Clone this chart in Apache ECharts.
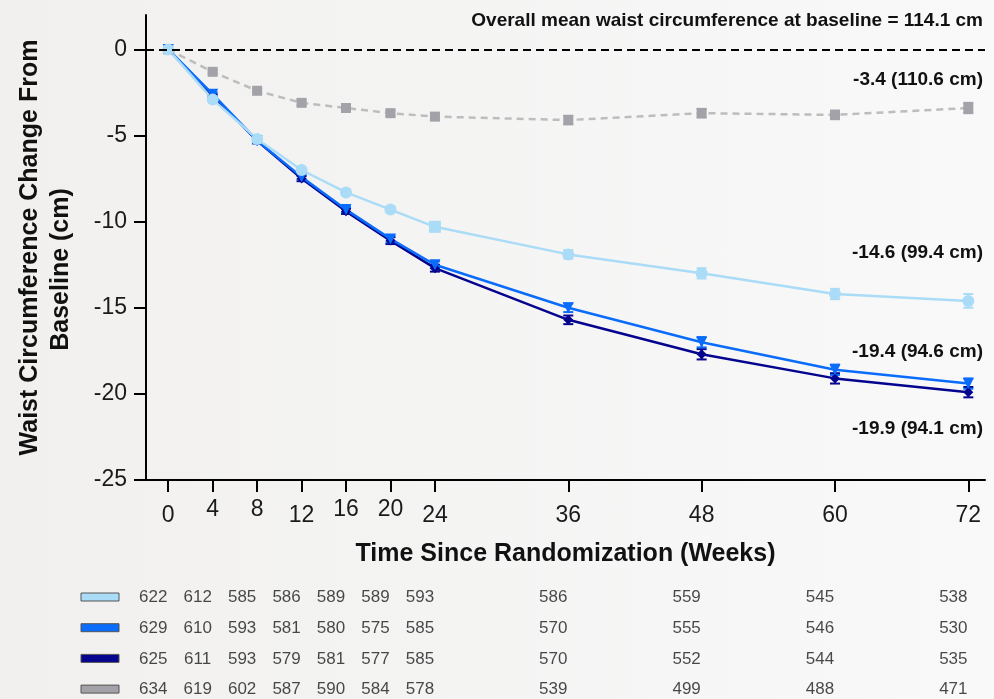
<!DOCTYPE html>
<html>
<head>
<meta charset="utf-8">
<script src="https://cdn.jsdelivr.net/npm/echarts@6/dist/echarts.min.js"></script>
<style>
  html, body { margin: 0; padding: 0; }
  #chart {
    width: 994px; height: 699px;
    background: linear-gradient(to right, #f1f0ef, #f9f9f9);
  }
</style>
</head>
<body>
<div id="chart"></div>
<script>
// weeks since randomization
const weeks = [0, 4, 8, 12, 16, 20, 24, 36, 48, 60, 72];

// mean change from baseline (cm) and error (+/-)
const lowMean = [0, -2.9, -5.2, -7.0, -8.3, -9.3, -10.3, -11.9, -13.0, -14.2, -14.6];
const lowErr = [0, 0.1, 0.15, 0.15, 0.15, 0.15, 0.2, 0.25, 0.3, 0.3, 0.4];
const midMean = [0, -2.6, -5.3, -7.4, -9.3, -11.0, -12.5, -15.0, -17.0, -18.6, -19.4];
const midErr = [0, 0.1, 0.15, 0.15, 0.15, 0.2, 0.2, 0.25, 0.3, 0.3, 0.3];
const highMean = [0, -2.7, -5.3, -7.5, -9.4, -11.1, -12.7, -15.7, -17.7, -19.1, -19.9];
const highErr = [0, 0.1, 0.15, 0.15, 0.15, 0.2, 0.2, 0.25, 0.3, 0.3, 0.3];
const placeboMean = [0, -1.3, -2.4, -3.1, -3.4, -3.7, -3.9, -4.1, -3.7, -3.8, -3.4];
const placeboErr = [0, 0.1, 0.1, 0.15, 0.15, 0.15, 0.2, 0.25, 0.25, 0.25, 0.3];

// patients at each visit
const lowN = [622, 612, 585, 586, 589, 589, 593, 586, 559, 545, 538];
const midN = [629, 610, 593, 581, 580, 575, 585, 570, 555, 546, 530];
const highN = [625, 611, 593, 579, 581, 577, 585, 570, 552, 544, 535];
const placeboN = [634, 619, 602, 587, 590, 584, 578, 539, 499, 488, 471];

const yTicks = [0, -5, -10, -15, -20, -25];
const raisedWeeks = [4, 8, 16, 20];

const C_LOW = "#aadcf7";
const C_MID = "#0a6cfa";
const C_HIGH = "#04048f";
const C_PBO = "#a2a2a8";
const FONT = "Liberation Sans, Arial, sans-serif";

const groups = [
  { name: "Low", mean: lowMean, err: lowErr, n: lowN, color: C_LOW, symbol: "circle", size: 12 },
  { name: "Mid", mean: midMean, err: midErr, n: midN, color: C_MID, symbol: "triangle", size: 11, rotate: 180 },
  { name: "High", mean: highMean, err: highErr, n: highN, color: C_HIGH, symbol: "diamond", size: 10 },
  { name: "Placebo", mean: placeboMean, err: placeboErr, n: placeboN, color: C_PBO, symbol: "rect", size: 10 }
];

let errorBars = g => ({
  type: "custom",
  xAxisIndex: 0, yAxisIndex: 0,
  z: 3,
  data: weeks.map((w, i) => [w, g.mean[i] - g.err[i], g.mean[i] + g.err[i]]),
  encode: { x: 0, y: [1, 2] },
  renderItem: (params, api) => {
    const lo = api.coord([api.value(0), api.value(1)]);
    const hi = api.coord([api.value(0), api.value(2)]);
    const style = { stroke: g.color, lineWidth: 2 };
    return {
      type: "group",
      children: [
        { type: "line", shape: { x1: lo[0], y1: lo[1], x2: hi[0], y2: hi[1] }, style },
        { type: "line", shape: { x1: lo[0] - 5, y1: lo[1], x2: lo[0] + 5, y2: lo[1] }, style },
        { type: "line", shape: { x1: hi[0] - 5, y1: hi[1], x2: hi[0] + 5, y2: hi[1] }, style }
      ]
    };
  }
});

let lineSeries = g => ({
  name: g.name,
  type: "line",
  xAxisIndex: 0, yAxisIndex: 0,
  z: 4,
  data: weeks.map((w, i) => [w, g.mean[i]]),
  symbol: g.name === "Low" ? (v, p) => (p.dataIndex === 6 ? "rect" : "circle") : g.symbol,
  symbolSize: g.size,
  symbolRotate: g.rotate || 0,
  itemStyle: { color: g.color },
  lineStyle: {
    color: g.name === "Placebo" ? "#bdbdbd" : g.color,
    width: 2.5,
    type: g.name === "Placebo" ? [7, 5] : "solid"
  },
  animation: false
});

let tableSeries = (g, row) => ({
  type: "scatter",
  xAxisIndex: 1, yAxisIndex: 1,
  data: weeks.map((w, i) => [w, row, g.n[i]]),
  symbolSize: 1,
  itemStyle: { color: "rgba(0,0,0,0)" },
  label: {
    show: true, position: "inside",
    formatter: p => String(p.value[2]),
    color: "#1a1a1a", fontSize: 17, fontFamily: FONT
  },
  silent: true
});

let annotation = (text, y) => ({
  type: "text", right: 11, top: y,
  style: { text, fontSize: 19, fontWeight: "bold", fill: "#111", fontFamily: FONT }
});

let init = () => {
  const chart = echarts.init(document.querySelector("#chart"), null, { renderer: "canvas" });

  const order = [groups[3], groups[2], groups[1], groups[0]];
  const series = [];
  order.forEach(g => series.push(lineSeries(g), errorBars(g)));
  series[0].markLine = {
    silent: true, symbol: "none", label: { show: false },
    lineStyle: { color: "#000", width: 2, type: [8, 5] },
    data: [{ yAxis: 0 }]
  };
  groups.forEach((g, row) => series.push(tableSeries(g, row)));

  const option = {
    animation: false,
    textStyle: { fontFamily: FONT },
    grid: [
      { left: 146, right: 9, top: 15, bottom: 219, outerBoundsMode: "none", containLabel: false },
      { left: 131, right: 24, top: 582, height: 123, outerBoundsMode: "none", containLabel: false }
    ],
    xAxis: [{
      type: "value", gridIndex: 0, min: -2, max: 73.5,
      splitLine: { show: false },
      axisLine: { onZero: false, lineStyle: { color: "#000", width: 2 } },
      axisTick: { show: true, length: 12, customValues: weeks, lineStyle: { color: "#000", width: 2 } },
      axisLabel: {
        customValues: weeks, margin: 18,
        formatter: v => (raisedWeeks.includes(v) ? "{hi|" + v + "}" : "{lo|" + v + "}"),
        rich: {
          hi: { fontSize: 23, color: "#1a1a1a", fontFamily: FONT },
          lo: { fontSize: 23, color: "#1a1a1a", fontFamily: FONT, padding: [6, 0, 0, 0] }
        }
      },
      name: "Time Since Randomization (Weeks)",
      nameLocation: "middle", nameGap: 62,
      nameTextStyle: { fontSize: 25, fontWeight: "bold", color: "#111", fontFamily: FONT }
    }, {
      type: "value", gridIndex: 1, min: -2, max: 73.5, show: false
    }],
    yAxis: [{
      type: "value", gridIndex: 0, min: -25, max: 2, interval: 5,
      splitLine: { show: false },
      axisLine: { show: true, onZero: false, lineStyle: { color: "#000", width: 2 } },
      axisTick: { show: true, length: 12, customValues: yTicks, lineStyle: { color: "#000", width: 2 } },
      axisLabel: { customValues: yTicks, margin: 19, fontSize: 23, color: "#1a1a1a", fontFamily: FONT },
      name: "{a|Waist Circumference Change From}\n{b|Baseline (cm)}",
      nameLocation: "middle", nameRotate: 90, nameGap: 69,
      nameTextStyle: {
        fontSize: 25, fontWeight: "bold", color: "#111", fontFamily: FONT, lineHeight: 31,
        rich: {
          a: { fontSize: 25, fontWeight: "bold", color: "#111", fontFamily: FONT, lineHeight: 31 },
          b: { fontSize: 25, fontWeight: "bold", color: "#111", fontFamily: FONT, lineHeight: 31, padding: [0, 44, 0, 0] }
        }
      }
    }, {
      type: "category", gridIndex: 1, inverse: true, show: false,
      data: groups.map(g => g.name)
    }],
    graphic: [
      annotation("Overall mean waist circumference at baseline = 114.1 cm", 11),
      annotation("-3.4 (110.6 cm)", 70),
      annotation("-14.6 (99.4 cm)", 243),
      annotation("-19.4 (94.6 cm)", 342),
      annotation("-19.9 (94.1 cm)", 419),
      ...groups.map((g, i) => ({
        type: "rect",
        shape: { x: 81, y: 593 + i * 30.7, width: 38, height: 8 },
        style: { fill: g.color, stroke: "#555", lineWidth: 1 }
      }))
    ],
    series
  };

  chart.setOption(option);
  return chart;
};

init();
</script>
</body>
</html>
